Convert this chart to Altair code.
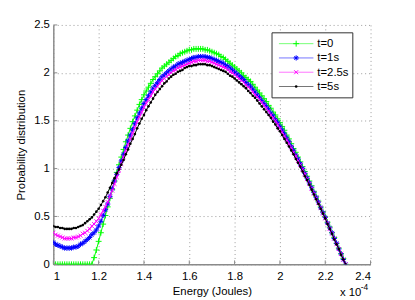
import altair as alt
import pandas as pd

# Energy grid (units of 1e-4 J)
energy = [round(1.00 + 0.01 * i, 2) for i in range(130)]

p_t0 = [0.00] * 18 + [
    0.07, 0.15, 0.24, 0.33, 0.42, 0.51, 0.60, 0.69, 0.78, 0.87, 0.96, 1.04,
    1.12, 1.20, 1.28, 1.35, 1.42, 1.49, 1.55, 1.61, 1.67, 1.72,
    1.77, 1.81, 1.85, 1.89, 1.93, 1.96, 1.99, 2.02, 2.05, 2.07,
    2.09, 2.11, 2.13, 2.15, 2.17, 2.18, 2.20, 2.21, 2.22, 2.23,
    2.24, 2.24, 2.25, 2.25, 2.25, 2.25, 2.25, 2.24, 2.24, 2.23,
    2.22, 2.21, 2.20, 2.19, 2.17, 2.16, 2.14, 2.12, 2.10, 2.08,
    2.06, 2.04, 2.02, 2.00, 1.97, 1.95, 1.93, 1.91, 1.88, 1.85,
    1.82, 1.79, 1.76, 1.73, 1.70, 1.66, 1.63, 1.59, 1.56, 1.52,
    1.48, 1.44, 1.40, 1.35, 1.31, 1.26, 1.21, 1.17, 1.12, 1.07,
    1.02, 0.97, 0.92, 0.87, 0.82, 0.76, 0.71, 0.66, 0.60, 0.55,
    0.50, 0.44, 0.39, 0.33, 0.28, 0.22, 0.17, 0.11, 0.06, 0.00]

p_t1 = [
    0.23, 0.21, 0.20, 0.19, 0.18, 0.17, 0.17, 0.17, 0.17, 0.18,
    0.18, 0.19, 0.21, 0.22, 0.24, 0.26, 0.28, 0.31, 0.33, 0.36,
    0.40, 0.45, 0.51, 0.57, 0.63, 0.71, 0.79, 0.87, 0.94, 1.01,
    1.08, 1.15, 1.22, 1.29, 1.35, 1.41, 1.47, 1.53, 1.58, 1.63,
    1.68, 1.72, 1.76, 1.80, 1.84, 1.87, 1.90, 1.93, 1.96, 1.98,
    2.00, 2.02, 2.04, 2.06, 2.07, 2.09, 2.10, 2.11, 2.12, 2.13,
    2.14, 2.15, 2.16, 2.16, 2.17, 2.17, 2.17, 2.17, 2.16, 2.16,
    2.15, 2.14, 2.13, 2.12, 2.11, 2.10, 2.08, 2.07, 2.05, 2.03,
    2.01, 1.99, 1.97, 1.95, 1.93, 1.90, 1.88, 1.86, 1.83, 1.80,
    1.77, 1.74, 1.71, 1.68, 1.65, 1.62, 1.58, 1.55, 1.51, 1.48,
    1.44, 1.40, 1.36, 1.32, 1.28, 1.23, 1.19, 1.14, 1.10, 1.05,
    1.00, 0.95, 0.90, 0.85, 0.80, 0.75, 0.70, 0.65, 0.59, 0.54,
    0.49, 0.43, 0.38, 0.33, 0.27, 0.22, 0.16, 0.11, 0.05, 0.00]

p_t25 = [
    0.33, 0.31, 0.30, 0.29, 0.28, 0.27, 0.27, 0.27, 0.27, 0.28,
    0.28, 0.29, 0.30, 0.32, 0.33, 0.35, 0.37, 0.40, 0.42, 0.45,
    0.48, 0.52, 0.56, 0.60, 0.65, 0.71, 0.77, 0.84, 0.91, 0.98,
    1.05, 1.12, 1.19, 1.25, 1.31, 1.37, 1.43, 1.49, 1.54, 1.59,
    1.64, 1.68, 1.72, 1.76, 1.80, 1.83, 1.86, 1.89, 1.92, 1.94,
    1.96, 1.98, 2.00, 2.02, 2.03, 2.05, 2.06, 2.07, 2.08, 2.09,
    2.10, 2.11, 2.12, 2.12, 2.13, 2.13, 2.13, 2.13, 2.12, 2.12,
    2.11, 2.10, 2.09, 2.08, 2.07, 2.06, 2.05, 2.03, 2.01, 2.00,
    1.98, 1.96, 1.94, 1.92, 1.90, 1.87, 1.85, 1.83, 1.80, 1.77,
    1.75, 1.72, 1.69, 1.66, 1.63, 1.60, 1.56, 1.53, 1.50, 1.46,
    1.42, 1.38, 1.34, 1.30, 1.26, 1.22, 1.17, 1.13, 1.08, 1.04,
    0.99, 0.94, 0.89, 0.84, 0.79, 0.74, 0.69, 0.64, 0.59, 0.53,
    0.48, 0.43, 0.37, 0.32, 0.27, 0.21, 0.16, 0.11, 0.05, 0.00]

p_t5 = [
    0.40, 0.39, 0.39, 0.38, 0.38, 0.37, 0.37, 0.37, 0.37, 0.38,
    0.38, 0.39, 0.40, 0.41, 0.43, 0.45, 0.47, 0.49, 0.52, 0.55,
    0.58, 0.62, 0.66, 0.70, 0.75, 0.80, 0.85, 0.90, 0.95, 0.99,
    1.04, 1.09, 1.15, 1.20, 1.26, 1.31, 1.36, 1.42, 1.47, 1.52,
    1.56, 1.61, 1.65, 1.69, 1.73, 1.77, 1.80, 1.83, 1.86, 1.89,
    1.91, 1.94, 1.96, 1.98, 1.99, 2.01, 2.02, 2.03, 2.05, 2.06,
    2.07, 2.07, 2.08, 2.08, 2.09, 2.09, 2.09, 2.09, 2.08, 2.08,
    2.07, 2.06, 2.05, 2.04, 2.03, 2.02, 2.01, 1.99, 1.97, 1.96,
    1.94, 1.92, 1.90, 1.88, 1.86, 1.84, 1.81, 1.79, 1.76, 1.74,
    1.71, 1.68, 1.65, 1.62, 1.59, 1.56, 1.53, 1.49, 1.46, 1.42,
    1.39, 1.35, 1.31, 1.27, 1.23, 1.19, 1.15, 1.10, 1.06, 1.02,
    0.97, 0.92, 0.88, 0.83, 0.78, 0.73, 0.68, 0.63, 0.58, 0.53,
    0.48, 0.42, 0.37, 0.32, 0.26, 0.21, 0.16, 0.10, 0.05, 0.00]

labels = ["t=0", "t=1s", "t=2.5s", "t=5s"]
colors = ["#00ff00", "#0000ff", "#ff00ff", "#000000"]
series = [p_t0, p_t1, p_t25, p_t5]

x_ticks = [1.0, 1.2, 1.4, 1.6, 1.8, 2.0, 2.2, 2.4]
y_ticks = [0, 0.5, 1, 1.5, 2, 2.5]

W, H = 322, 243
FONT = "Liberation Sans"

PLUS = "M-1,0H1M0,-1V1"
STAR = "M-1,0H1M0,-1V1M-0.7,-0.7L0.7,0.7M-0.7,0.7L0.7,-0.7"
XMARK = "M-1,-1L1,1M-1,1L1,-1"
markers = [
    dict(shape=PLUS, size=36, filled=False, strokeWidth=1),
    dict(shape=STAR, size=28, filled=False, strokeWidth=1),
    dict(shape=XMARK, size=16, filled=False, strokeWidth=1),
    dict(shape="circle", size=7, filled=True, strokeWidth=0),
]

xscale = alt.Scale(domain=[1, 2.4], nice=False, zero=False)
yscale = alt.Scale(domain=[0, 2.5], nice=False)

grid_kw = dict(grid=True, gridDash=[1, 3], gridColor="#9a9a9a", gridWidth=1,
               domainColor="#8a8a8a", domainWidth=1.5, ticks=False,
               labelFont=FONT, labelFontSize=11.5, labelColor="#000",
               titleFont=FONT, titleFontSize=11.5, titleFontWeight="normal",
               titleColor="#000")

xaxis = alt.Axis(values=x_ticks, format="~g", title="Energy (Joules)",
                 labelPadding=6, titlePadding=4, **grid_kw)
yaxis = alt.Axis(values=y_ticks, format="~g", title="Probability distribution",
                 labelPadding=4, titlePadding=7, **grid_kw)

layers = []
for lab, col, vals, mk in zip(labels, colors, series, markers):
    df = pd.DataFrame({"E": energy, "P": vals, "series": lab})
    base = alt.Chart(df).encode(
        x=alt.X("E:Q", scale=xscale, axis=xaxis),
        y=alt.Y("P:Q", scale=yscale, axis=yaxis),
    )
    layers.append(base.mark_line(color=col, strokeWidth=1, clip=True))
    layers.append(base.mark_point(color=col, opacity=1, clip=True, **mk))

# inward tick marks
xt = pd.DataFrame({"E": x_ticks})
layers.append(alt.Chart(xt).mark_rule(color="#8a8a8a", strokeWidth=1).encode(
    x=alt.X("E:Q", scale=xscale, axis=xaxis),
    y=alt.value(H - 4), y2=alt.value(H)))
yt = pd.DataFrame({"P": y_ticks})
layers.append(alt.Chart(yt).mark_rule(color="#8a8a8a", strokeWidth=1).encode(
    y=alt.Y("P:Q", scale=yscale, axis=yaxis),
    x=alt.value(0), x2=alt.value(4)))

# legend box
one = pd.DataFrame({"a": [0]})
LX0, LX1, LY0, LY1 = 222, 304, 8, 74
layers.append(alt.Chart(one).mark_rect(fill="white", stroke="#303030", strokeWidth=1).encode(
    x=alt.value(LX0), x2=alt.value(LX1), y=alt.value(LY0), y2=alt.value(LY1)))
row_y = [19, 33.5, 48, 62.5]
for lab, col, mk, ry in zip(labels, colors, markers, row_y):
    layers.append(alt.Chart(one).mark_rule(color=col, strokeWidth=1, opacity=0.55).encode(
        x=alt.value(229), x2=alt.value(264), y=alt.value(ry)))
    layers.append(alt.Chart(one).mark_point(color=col, opacity=1, **mk).encode(
        x=alt.value(246.5), y=alt.value(ry)))
    layers.append(alt.Chart(one).mark_text(text=lab, align="left", baseline="middle",
                                           font=FONT, fontSize=11.5, color="#000").encode(
        x=alt.value(268), y=alt.value(ry + 0.5)))

# exponent annotation
layers.append(alt.Chart(one).mark_text(text="x 10", align="left", baseline="alphabetic",
                                       font=FONT, fontSize=11.5, color="#000").encode(
    x=alt.value(291), y=alt.value(H + 32)))
layers.append(alt.Chart(one).mark_text(text="-4", align="left", baseline="alphabetic",
                                       font=FONT, fontSize=8.5, color="#000").encode(
    x=alt.value(312), y=alt.value(H + 26)))

chart = alt.layer(*layers).properties(
    width=W, height=H,
    autosize=alt.AutoSizeParams(type="none"),
    padding={"left": 46, "top": 15, "right": 37, "bottom": 34},
    background="white",
).configure_view(stroke=None)

chart.save("out.html", embed_options={"renderer": "svg", "actions": False})
